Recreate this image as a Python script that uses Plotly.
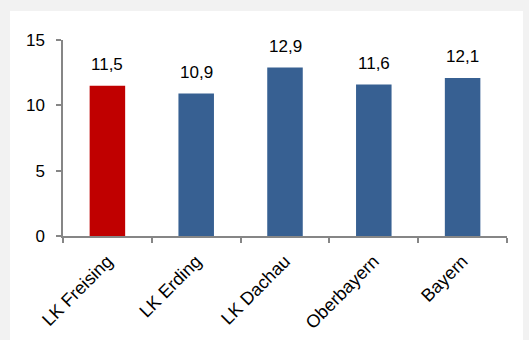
import plotly.graph_objects as go

categories = ["LK Freising", "LK Erding", "LK Dachau", "Oberbayern", "Bayern"]
values = [11.5, 10.9, 12.9, 11.6, 12.1]
value_labels = ["11,5", "10,9", "12,9", "11,6", "12,1"]
colors = ["#C00000", "#376092", "#376092", "#376092", "#376092"]
y_ticks = [0, 5, 10, 15]

W, H = 529, 340
ml, mr, mt, mb = 63, 22, 40, 104
pw, ph = W - ml - mr, H - mt - mb

fig = go.Figure()
fig.add_trace(go.Bar(x=categories, y=values, marker=dict(color=colors, line=dict(width=0)),
                     hoverinfo="skip"))

for c, v, t in zip(categories, values, value_labels):
    fig.add_annotation(x=c, y=v, text=t, showarrow=False, yanchor="middle",
                       yshift=21, font=dict(family="Liberation Sans, Arial", size=17, color="#000000"))

# white panel on the gray page
fig.add_shape(type="rect", xref="paper", yref="paper",
              x0=(10 - ml) / pw, x1=(523 - ml) / pw,
              y0=(H - mb - 345) / ph, y1=(H - mb - 11) / ph,
              fillcolor="white", line=dict(width=0), layer="below")

fig.update_layout(
    width=W, height=H,
    margin=dict(l=ml, r=mr, t=mt, b=mb, autoexpand=False),
    paper_bgcolor="#F2F2F2", plot_bgcolor="white",
    bargap=0.6, showlegend=False,
    font=dict(family="Liberation Sans, Arial", size=17, color="#000000"),
)
fig.update_xaxes(type="category", showline=True, linecolor="#868686", linewidth=1.5,
                 ticks="outside", ticklen=5, tickcolor="#868686", tickwidth=1.5,
                 tickson="boundaries", tickangle=-45, showgrid=False, zeroline=False,
                 ticklabelstandoff=6, tickfont=dict(size=18))
fig.update_yaxes(range=[0, 15], tickvals=y_ticks, showline=True, linecolor="#868686",
                 linewidth=1.5, ticks="outside", ticklen=5, tickcolor="#868686",
                 tickwidth=1.5, showgrid=False, zeroline=False, ticklabelstandoff=8,
                 tickfont=dict(size=17))

fig.write_html("out.html")
